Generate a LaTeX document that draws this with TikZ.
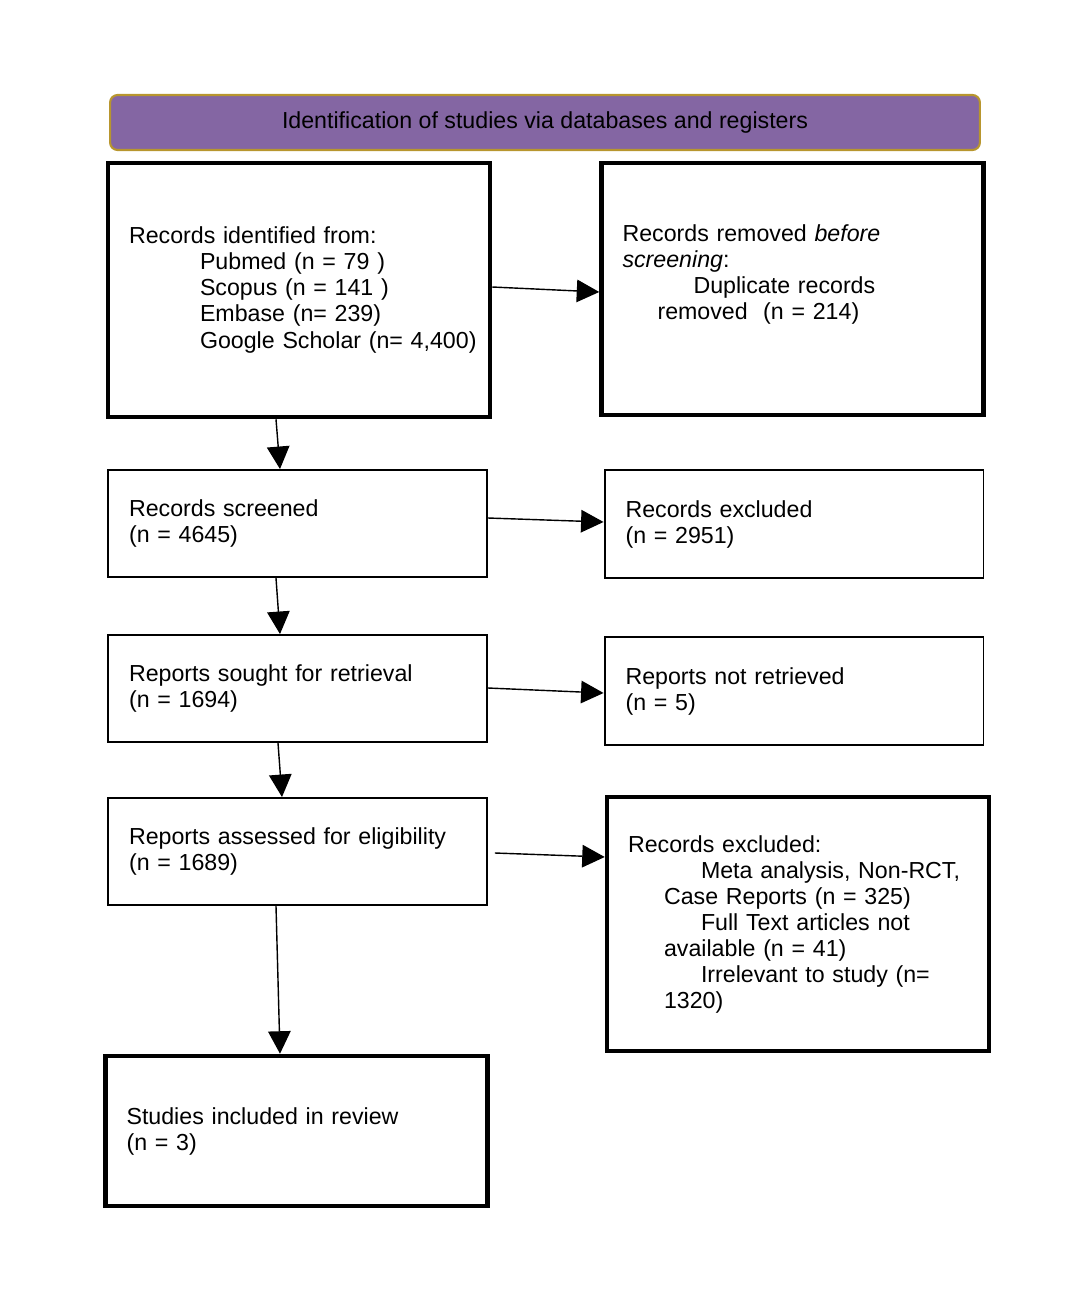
\documentclass[tikz,border=0pt]{standalone}
\usepackage{fontspec}
\setmainfont{Liberation Sans}
\usepackage{xcolor}
\usetikzlibrary{arrows.meta,calc,positioning}

\definecolor{headfill}{HTML}{8466A3}
\definecolor{headedge}{HTML}{B8962E}

\begin{document}
\begin{tikzpicture}[x=0.02cm, y=-0.02cm,
    font=\fontsize{13.2}{14.8}\selectfont,
    head_style/.style={draw=headedge, line width=1.2pt, fill=headfill, rounded corners=0.15cm,
        minimum width=17.4cm, minimum height=1.1cm},
    thin_box/.style={draw, line width=1.1pt, align=left, inner xsep=0.42cm,
        text width=6.74cm, minimum height=2.14cm},
    thick_box/.style={draw, line width=2.6pt, align=left, inner xsep=0.42cm,
        text width=6.8cm},
    flow/.style={-{Triangle[length=0.45cm,width=0.45cm]}, line width=0.8pt}]

	\useasboundingbox (0,0) rectangle (1080,1308);

	\node[head_style] (head) at (545,122.5) {Identification of studies via databases and registers};

	% left column
	\node[thick_box, minimum height=5.08cm] (ident) at (299,290) {Records identified from:\\
		\hspace*{1.42cm}Pubmed (n = 79 )\\
		\hspace*{1.42cm}Scopus (n = 141 )\\
		\hspace*{1.42cm}Embase (n= 239)\\
		\hspace*{1.42cm}\mbox{Google Scholar (n= 4,400)}};
	\node[thin_box] (screened) at (297.5,523.5) {Records screened\\(n = 4645)};
	\node[thin_box] (sought) at (297.5,688.5) {Reports sought for retrieval\\(n = 1694)};
	\node[thin_box] (assessed) at (297.5,851.5) {Reports assessed for eligibility\\(n = 1689)};
	\node[thick_box, minimum height=3cm] (incl) at (296.5,1131) {Studies included in review\\(n = 3)};

	% right column
	\node[thick_box, minimum height=5.04cm] (removed) at (792.5,289) {Records removed \textit{before}\\
		\textit{screening}:\\
		\hspace*{1.42cm}Duplicate records\\
		\hspace*{0.7cm}removed\ \ (n = 214)\rule[-0.68cm]{0pt}{0pt}};
	\node[thin_box, minimum height=2.16cm] (excl1) at (794,524) {Records excluded\\(n = 2951)};
	\node[thin_box, minimum height=2.16cm] (notret) at (794,691) {Reports not retrieved\\(n = 5)};
	\node[thick_box, minimum height=5.08cm] (excl2) at (798,924) {Records excluded:\\
		\hspace*{1.46cm}Meta analysis, Non-RCT,\\
		\hspace*{0.72cm}Case Reports (n = 325)\\
		\hspace*{1.46cm}Full Text articles not\\
		\hspace*{0.72cm}available (n = 41)\\
		\hspace*{1.46cm}Irrelevant to study (n=\\
		\hspace*{0.72cm}1320)};

	% connectors
	\draw[flow] ($(ident.east)+(0,-3)$) -- ($(removed.west)+(0,3)$);
	\draw[flow] ($(ident.south)+(-23,0)$) -- ($(screened.north)+(-17.5,0)$);
	\draw[flow] ($(screened.east)+(0,-5.5)$) -- ($(excl1.west)+(0,-2)$);
	\draw[flow] ($(screened.south)+(-21.5,0)$) -- ($(sought.north)+(-17.5,0)$);
	\draw[flow] ($(sought.east)+(0,-0.5)$) -- ($(notret.west)+(0,2)$);
	\draw[flow] ($(sought.south)+(-19.5,0)$) -- ($(assessed.north)+(-15.5,0)$);
	\draw[flow] ($(assessed.east)+(7,1.5)$) -- ($(excl2.west)+(0,-67)$);
	\draw[flow] ($(assessed.south)+(-21.5,0)$) -- ($(incl.north)+(-16.5,0)$);
\end{tikzpicture}
\end{document}
